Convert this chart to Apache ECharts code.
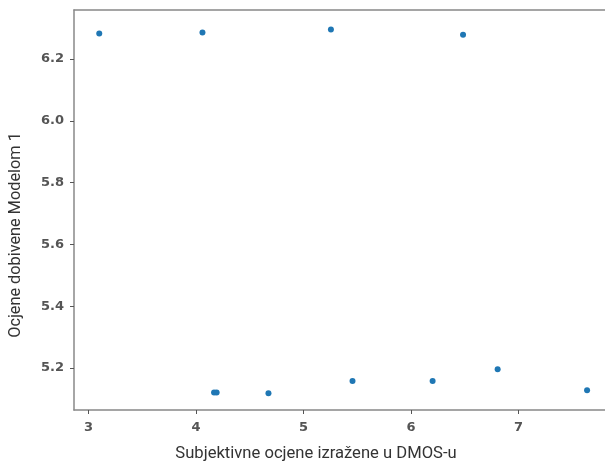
<!DOCTYPE html>
<html>
<head>
<meta charset="utf-8">
<script src="https://cdn.jsdelivr.net/npm/echarts@6/dist/echarts.min.js"></script>
<style>html,body{margin:0;padding:0;background:#fff;overflow:hidden}#c{width:640px;height:463px}</style>
</head>
<body>
<div id="c"></div>
<script>
var xValues = [3.10, 4.06, 5.255, 6.484, 4.168, 4.192, 4.674, 5.456, 6.201, 6.806, 7.638];
var yValues = [6.283, 6.286, 6.296, 6.279, 5.121, 5.121, 5.118, 5.158, 5.158, 5.196, 5.128];
var xTicks = [3, 4, 5, 6, 7];
var yTicks = [5.2, 5.4, 5.6, 5.8, 6.0, 6.2];
var xTitle = 'Subjektivne ocjene izražene u DMOS-u';
var yTitle = 'Ocjene dobivene Modelom 1';

var points = xValues.map(function (x, i) { return [x, yValues[i]]; });
var titleFont = 'Roboto, Noto Sans, sans-serif';
var tickFont = 'DejaVu Sans, sans-serif';
var chart = echarts.init(document.getElementById('c'), null, {renderer: 'canvas'});
var lineStyle = {color: '#888', width: 1.5};
chart.setOption({
  animation: false,
  grid: {left: 74, top: 10, width: 552, height: 400, show: false, outerBoundsMode: 'none', containLabel: false},
  xAxis: [{
    type: 'value', min: 2.865, max: 8.0, interval: 1,
    name: xTitle, nameLocation: 'middle', nameGap: 35,
    nameTextStyle: {fontFamily: titleFont, fontSize: 16.6, color: '#333', padding: [0, 68, 0, 0]},
    axisLine: {show: true, onZero: false, lineStyle: lineStyle},
    axisTick: {show: true, length: 4, lineStyle: {color: '#555'}, customValues: xTicks},
    axisLabel: {fontFamily: tickFont, fontSize: 13, fontWeight: 'bold', color: '#555', margin: 11, customValues: xTicks,
      formatter: function (v) { return String(v); }},
    splitLine: {show: false}
  }, {
    type: 'value', min: 2.865, max: 8.0, position: 'top',
    axisLine: {show: true, onZero: false, lineStyle: lineStyle},
    axisTick: {show: false}, axisLabel: {show: false}, splitLine: {show: false}
  }],
  yAxis: {
    type: 'value', min: 5.064, max: 6.359,
    name: yTitle, nameLocation: 'middle', nameGap: 50, nameRotate: 90,
    nameTextStyle: {fontFamily: titleFont, fontSize: 16.3, color: '#333', padding: [0, 50, 0, 0]},
    axisLine: {show: true, onZero: false, lineStyle: lineStyle},
    axisTick: {show: true, length: 4, lineStyle: {color: '#555'}, customValues: yTicks},
    axisLabel: {fontFamily: tickFont, fontSize: 13, fontWeight: 'bold', color: '#555', margin: 10, customValues: yTicks,
      formatter: function (v) { return v.toFixed(1); }},
    splitLine: {show: false}
  },
  series: [{
    type: 'scatter', data: points, symbolSize: 6, xAxisIndex: 0,
    itemStyle: {color: '#1f77b4', opacity: 1}
  }]
});
</script>
</body>
</html>
